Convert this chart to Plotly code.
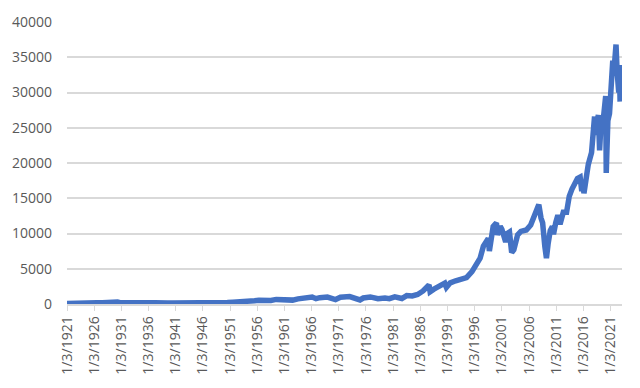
import plotly.graph_objects as go

years = [1921.0, 1921.6, 1922.5, 1923.5, 1924.5, 1925.5, 1926.5, 1927.5, 1928.5, 1929.7, 1929.9,
         1930.3, 1930.9, 1931.5, 1932.5, 1932.7, 1933.5, 1934.5, 1935.5, 1936.5, 1937.2, 1938.2,
         1939.5, 1940.5, 1941.5, 1942.3, 1943.5, 1944.5, 1945.5, 1946.4, 1947.5, 1948.5, 1949.5,
         1950.5, 1951.5, 1952.5, 1953.5, 1954.5, 1955.5, 1956.3, 1957.8, 1958.5, 1959.5, 1960.5,
         1961.9, 1962.5, 1963.5, 1964.5, 1966.1, 1966.8, 1967.5, 1968.9, 1970.4, 1971.3, 1972.5,
         1973.0, 1974.9, 1975.5, 1976.8, 1977.5, 1978.2, 1979.5, 1980.3, 1981.3, 1982.6, 1983.5,
         1984.5, 1985.5, 1986.5, 1987.6, 1987.8, 1988.5, 1989.5, 1990.5, 1990.8, 1991.5, 1992.5,
         1993.5, 1994.5, 1995.5, 1996.5, 1997.0, 1997.6, 1998.5, 1998.7, 1999.0, 1999.4, 2000.0,
         2000.2, 2000.7, 2001.0, 2001.7, 2002.0, 2002.4, 2002.8, 2003.2, 2003.9, 2004.5, 2005.5,
         2006.3, 2006.9, 2007.5, 2007.8, 2008.2, 2008.5, 2008.9, 2009.2, 2009.5, 2009.9, 2010.3,
         2010.5, 2010.9, 2011.3, 2011.7, 2012.3, 2012.9, 2013.4, 2013.9, 2014.5, 2014.9, 2015.4,
         2015.7, 2015.9, 2016.1, 2016.6, 2016.9, 2017.5, 2017.9, 2018.05, 2018.15, 2018.75,
         2018.98, 2019.3, 2019.5, 2019.9, 2020.1, 2020.2, 2020.5, 2020.8, 2021.0, 2021.4,
         2021.7, 2021.9, 2022.0, 2022.2, 2022.5, 2022.6, 2022.75]
values = [76, 66, 95, 90, 100, 140, 160, 180, 240, 381, 230,
          290, 160, 150, 41, 75, 100, 95, 130, 165, 190, 100,
          145, 125, 120, 93, 140, 150, 170, 210, 180, 180, 180,
          220, 260, 280, 270, 360, 460, 520, 420, 500, 650, 620,
          730, 550, 730, 850, 990, 750, 900, 980, 630, 950, 950,
          1050, 580, 850, 1000, 850, 740, 850, 760, 1020, 780, 1200,
          1150, 1350, 1850, 2720, 1740, 2100, 2600, 2950, 2360, 3000, 3300,
          3550, 3750, 4600, 5700, 6500, 8200, 9300, 7500, 9200, 11000, 11500,
          9800, 11000, 10600, 8800, 10000, 10200, 7300, 7700, 9800, 10300, 10500,
          11200, 12400, 13600, 14100, 12200, 11500, 8200, 6500, 8500, 10400, 11000,
          9900, 11500, 12600, 11300, 13000, 13000, 15300, 16300, 17000, 17800, 18000,
          16000, 17500, 15700, 18300, 19800, 21500, 24700, 26600, 24000, 26800,
          21800, 26500, 25000, 28500, 29500, 18600, 26000, 27000, 30600, 34500,
          33800, 35500, 36800, 33000, 30000, 33900, 28700]

tick_years = [1921, 1926, 1931, 1936, 1941, 1946, 1951, 1956, 1961, 1966, 1971, 1976,
              1981, 1986, 1991, 1996, 2001, 2006, 2011, 2016, 2021]
tick_labels = ["1/3/%d" % y for y in tick_years]

fig = go.Figure(go.Scatter(x=years, y=values, mode="lines",
                           line=dict(color="#4472C4", width=5.5), showlegend=False))

fig.update_layout(
    width=640, height=388,
    margin=dict(l=65, r=18, t=18, b=84),
    paper_bgcolor="white", plot_bgcolor="white",
    font=dict(family="Open Sans, Liberation Sans, sans-serif", size=14, color="#595959"),
)
fig.update_xaxes(range=[1921, 2023.1], tickvals=tick_years, ticktext=tick_labels,
                 tickangle=-90, showgrid=False, showline=True, linecolor="#D9D9D9",
                 linewidth=1.5, ticks="outside", tickcolor="#D9D9D9", ticklen=5,
                 tickfont=dict(size=14, color="#595959"), zeroline=False)
fig.update_yaxes(range=[0, 40000], dtick=5000, tickformat="d", showgrid=True,
                 gridcolor="#D9D9D9", gridwidth=1.5, zeroline=False, showline=False,
                 tickfont=dict(size=14, color="#595959"), ticklabelstandoff=14)

fig.write_html("out.html")
